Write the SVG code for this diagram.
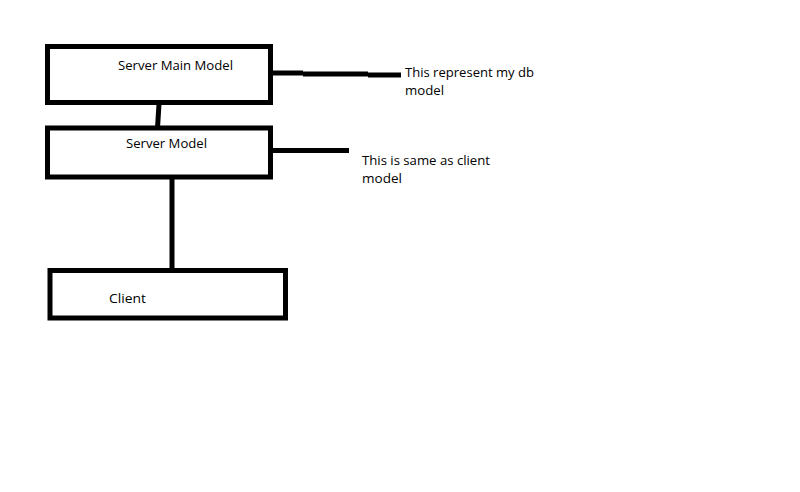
<svg xmlns="http://www.w3.org/2000/svg" width="800" height="492" viewBox="0 0 800 492">
<style>
.box{fill:none;stroke:#000;stroke-width:5}
.ln{fill:none;stroke:#000;stroke-width:5}
text{font-family:"Open Sans","Liberation Sans",sans-serif;font-size:12.5px;fill:#000}
</style>
<rect width="800" height="492" fill="#fff"/>
<g id="connectors">
<path class="ln" d="M159,104 L157.5,128"/>
<path class="ln" d="M172,179 L172,269"/>
<path class="ln" d="M272,73 L303,73 M303,74 L368,74 M368,75 L401,75"/>
<path class="ln" d="M272,150.5 L349,150.5"/>
</g>
<g id="server-main-model">
<rect class="box" x="47.5" y="46.5" width="223" height="56"/>
<text x="118" y="70" textLength="115" lengthAdjust="spacingAndGlyphs">Server Main Model</text>
</g>
<g id="server-model">
<rect class="box" x="47.5" y="128" width="223" height="49"/>
<text x="126" y="148" textLength="81" lengthAdjust="spacingAndGlyphs">Server Model</text>
</g>
<g id="client">
<rect class="box" x="50" y="270.5" width="235.5" height="47.5"/>
<text x="109" y="302.5" textLength="37" lengthAdjust="spacingAndGlyphs">Client</text>
</g>
<g id="note-db">
<text x="405" y="77" textLength="129" lengthAdjust="spacingAndGlyphs">This represent my db</text>
<text x="405" y="94.5" textLength="39" lengthAdjust="spacingAndGlyphs">model</text>
</g>
<g id="note-client">
<text x="362" y="165" textLength="128" lengthAdjust="spacingAndGlyphs">This is same as client</text>
<text x="362" y="183" textLength="40" lengthAdjust="spacingAndGlyphs">model</text>
</g>
</svg>
